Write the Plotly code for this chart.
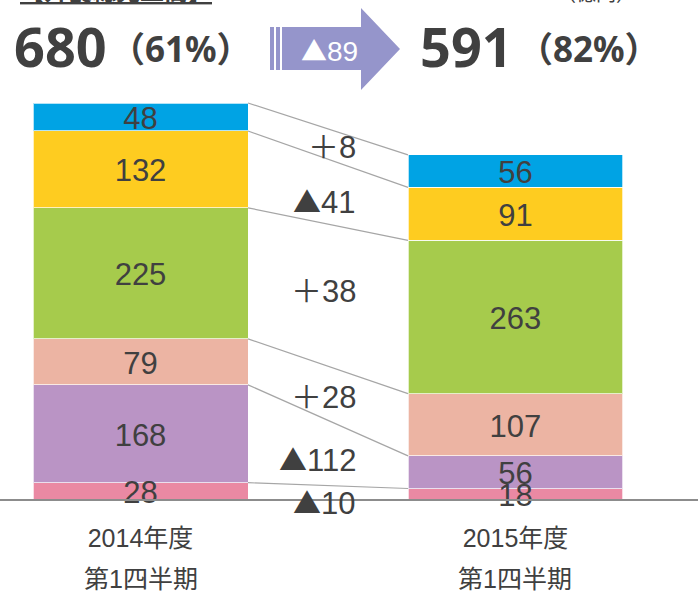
import plotly.graph_objects as go

# ---- data ----
categories = ["2014年度", "2015年度"]
period_labels = ["第1四半期", "第1四半期"]
series_names = ["pink", "purple", "salmon", "green", "yellow", "blue"]  # bottom -> top
values_2014 = [28, 168, 79, 225, 132, 48]
values_2015 = [18, 56, 107, 263, 91, 56]
totals = [680, 591]
shares = ["61%", "82%"]
total_change = 89
unit_label = "（億円）"
title_label = "【外食総売上高】"

# ---- style ----
colors = ["#EA89A3", "#BA94C5", "#ECB4A3", "#A6CB4C", "#FECC20", "#00A3E4"]
text_color = "#404040"
W, H = 698, 594
BOTTOM = 95
PLOT_H = H - BOTTOM
PX_PER_UNIT = 396 / 680.0
BAR_W = 0.5733
X_RANGE = [-0.3747, 1.4867]
Y_RANGE = [0, PLOT_H / PX_PER_UNIT]
LABEL_DROP_PX = 4
# label rows (pixels) for the difference labels, bottom series -> top series
diff_label_px = [502, 459, 397, 292, 201, 148]
diff_label_right_x = 0.58


def tri(size):
    return "<span style=\"font-family:'Noto Sans CJK JP';font-size:%dpx\">▲</span>" % size


def px_to_paper(xpx, ypx):
    return xpx / W, (PLOT_H - ypx) / PLOT_H


def cum(vals):
    out, s = [], 0
    for v in vals:
        out.append((s, s + v))
        s += v
    return out


fig = go.Figure()

cum14 = cum(values_2014)
cum15 = cum(values_2015)

for i, name in enumerate(series_names):
    fig.add_trace(go.Bar(
        x=[0, 1], y=[values_2014[i], values_2015[i]], name=name,
        width=BAR_W, marker=dict(color=colors[i], line=dict(color="rgba(255,255,255,0.7)", width=1)),
        hoverinfo="skip", showlegend=False,
    ))

# connector lines between segment tops
for i in range(len(series_names)):
    fig.add_trace(go.Scatter(
        x=[0 + BAR_W / 2, 1 - BAR_W / 2], y=[cum14[i][1], cum15[i][1]],
        mode="lines", line=dict(color="#A6A6A6", width=1.2),
        hoverinfo="skip", showlegend=False,
    ))

# segment value labels
drop = LABEL_DROP_PX / PX_PER_UNIT
for i in range(len(series_names)):
    fig.add_trace(go.Scatter(
        x=[0, 1],
        y=[(cum14[i][0] + cum14[i][1]) / 2 - drop, (cum15[i][0] + cum15[i][1]) / 2 - drop],
        mode="text", text=[str(values_2014[i]), str(values_2015[i])],
        textposition="middle center",
        textfont=dict(family="Liberation Sans, Arial", size=31, color=text_color),
        hoverinfo="skip", showlegend=False, cliponaxis=False,
    ))

annotations = []
# difference labels
for i in range(len(series_names)):
    d = values_2015[i] - values_2014[i]
    txt = ("＋" + str(d)) if d >= 0 else (tri(28) + str(-d))
    annotations.append(dict(
        x=diff_label_right_x, y=(PLOT_H - diff_label_px[i]) / PLOT_H,
        xref="x", yref="paper", text=txt, showarrow=False,
        xanchor="right", yanchor="middle",
        font=dict(family="Liberation Sans, Noto Sans CJK JP", size=31, color=text_color),
    ))

# second line of category labels
for i, lab in enumerate(period_labels):
    annotations.append(dict(
        x=i, y=(PLOT_H - 579) / PLOT_H, xref="x", yref="paper",
        text=lab, showarrow=False, xanchor="center", yanchor="middle",
        font=dict(family="Liberation Sans, Noto Sans CJK JP", size=25, color=text_color),
    ))

# header totals
hdr_font = "Noto Sans, Noto Sans CJK JP"
for xpx_num, xpx_pct, tot, sh in [(12, 108, totals[0], shares[0]), (418, 516, totals[1], shares[1])]:
    px, py = px_to_paper(xpx_num, 46)
    annotations.append(dict(x=px, y=py, xref="paper", yref="paper", text="<b>%d</b>" % tot,
                            showarrow=False, xanchor="left", yanchor="middle",
                            font=dict(family=hdr_font, size=54, color=text_color)))
    px, py = px_to_paper(xpx_pct, 49)
    annotations.append(dict(x=px, y=py, xref="paper", yref="paper", text="<b>（%s）</b>" % sh,
                            showarrow=False, xanchor="left", yanchor="middle",
                            font=dict(family=hdr_font, size=35, color=text_color)))

# arrow text
px, py = px_to_paper(329, 50)
annotations.append(dict(x=px, y=py, xref="paper", yref="paper", text=tri(26) + str(total_change),
                        showarrow=False, xanchor="center", yanchor="middle",
                        font=dict(family="Liberation Sans, Arial", size=28, color="white")))

# partially cut-off top texts
px, py = px_to_paper(116, 9)
annotations.append(dict(x=px, y=py, xref="paper", yref="paper", text="<b><u>%s</u></b>" % title_label,
                        showarrow=False, xanchor="center", yanchor="bottom",
                        font=dict(family="Noto Sans CJK JP", size=24, color=text_color)))
px, py = px_to_paper(596, 9)
annotations.append(dict(x=px, y=py, xref="paper", yref="paper", text=unit_label,
                        showarrow=False, xanchor="center", yanchor="bottom",
                        font=dict(family="Noto Sans CJK JP", size=20, color=text_color)))

# arrow shapes
def path(points):
    s = ""
    for k, (xp, yp) in enumerate(points):
        a, b = px_to_paper(xp, yp)
        s += ("M" if k == 0 else "L") + "%.5f,%.5f " % (a, b)
    return s + "Z"

arrow_color = "#9595CB"
shapes = [
    dict(type="path", xref="paper", yref="paper", line=dict(width=0), fillcolor=arrow_color,
         path=path([(282, 27), (361, 27), (361, 8), (400, 49), (361, 90), (361, 70), (282, 70)])),
    dict(type="path", xref="paper", yref="paper", line=dict(width=0), fillcolor=arrow_color,
         path=path([(270, 27), (274, 27), (274, 70), (270, 70)])),
    dict(type="path", xref="paper", yref="paper", line=dict(width=0), fillcolor=arrow_color,
         path=path([(276, 27), (280, 27), (280, 70), (276, 70)])),
]

fig.update_layout(
    width=W, height=H,
    margin=dict(l=0, r=0, t=0, b=BOTTOM),
    paper_bgcolor="white", plot_bgcolor="white",
    barmode="stack", showlegend=False,
    annotations=annotations, shapes=shapes,
    xaxis=dict(range=X_RANGE, tickmode="array", tickvals=[0, 1], ticktext=categories,
               showgrid=False, zeroline=False, showline=True, linecolor="#8C8C8C", linewidth=2,
               ticks="", ticklabelstandoff=16,
               tickfont=dict(family="Liberation Sans, Noto Sans CJK JP", size=25, color=text_color),
               fixedrange=True),
    yaxis=dict(range=Y_RANGE, visible=False, showgrid=False, zeroline=False, fixedrange=True),
)

fig.write_html("out.html", config={"displayModeBar": False},
               post_script="document.body.style.margin='0';document.body.style.overflow='hidden';")
